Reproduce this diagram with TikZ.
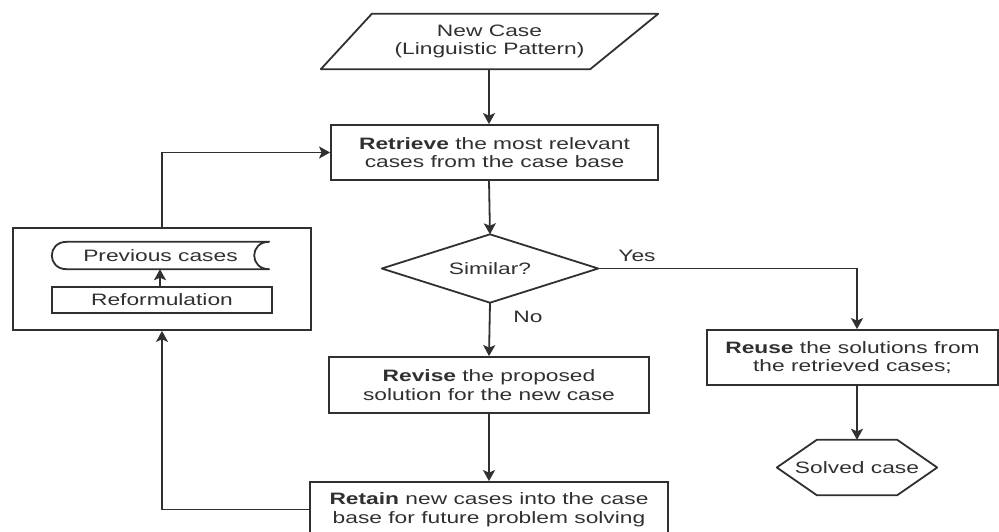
\documentclass[tikz,border=0pt]{standalone}
\usepackage{fontspec}
\setmainfont{Liberation Sans}[FakeStretch=1.38]
\usetikzlibrary{arrows.meta,shapes.geometric}
\definecolor{ink}{HTML}{303030}
\begin{document}
\begin{tikzpicture}[x=1pt,y=-1pt,
  every node/.style={font=\fontsize{16.5}{18.5}\selectfont, text=ink, inner sep=0pt, align=center},
  box/.style={draw=ink, line width=1.8pt, rectangle, minimum width=#1},
  ghost/.style={rectangle},
  shapeline/.style={draw=ink, line width=1.8pt, line join=round},
  conn/.style={draw=ink, line width=1.8pt},
  arr/.style={conn, -{Stealth[length=11pt,width=12pt,inset=2.5pt]}},
  lbl/.style={font=\fontsize{16.5}{18.5}\selectfont}
]
\useasboundingbox (0,0) rectangle (999,531);
\clip (0,0) rectangle (999,531);

% New case (parallelogram)
\node[ghost, minimum width=337pt, minimum height=55pt] (newcase) at (489.5,41.5) {New Case\\(Linguistic Pattern)};
\draw[shapeline] (newcase.south west) -- ([xshift=51pt]newcase.north west) -- (newcase.north east) -- ([xshift=-68pt]newcase.south east) -- cycle;

% Retrieve
\node[box=327pt, minimum height=55pt] (retrieve) at (494.5,152.5) {\textbf{Retrieve} the most relevant\\cases from the case base};

% Similar diamond
\node[ghost, minimum width=216pt, minimum height=68pt] (similar) at (490,268.5) {Similar?};
\draw[shapeline] (similar.west) -- (similar.north) -- (similar.east) -- (similar.south) -- cycle;

% Revise
\node[box=320pt, minimum height=56pt] (revise) at (489,385) {\textbf{Revise} the proposed\\solution for the new case};

% Retain
\node[box=358pt, minimum height=55pt] (retain) at (489,509.5) {\textbf{Retain} new cases into the case\\base for future problem solving};

% Reuse
\node[box=291pt, minimum height=55pt] (reuse) at (852.5,357.5) {\textbf{Reuse} the solutions from\\the retrieved cases;};

% Solved case hexagon
\node[ghost, minimum width=160pt, minimum height=55pt] (solved) at (857,467.5) {Solved case};
\draw[shapeline] (solved.west) -- ([xshift=40pt]solved.north west) -- ([xshift=-40pt]solved.north east) -- (solved.east) -- ([xshift=-40pt]solved.south east) -- ([xshift=40pt]solved.south west) -- cycle;

% Left group
\node[box=298pt, minimum height=102pt] (outer) at (162,279) {};
\node[ghost, minimum width=217pt, minimum height=27pt] (prev) at (160.5,255.5) {Previous cases};
\draw[shapeline] ([xshift=15pt]prev.north west) -- (prev.north east)
  .. controls ([xshift=-20pt]prev.north east) and ([xshift=-20pt]prev.south east) .. (prev.south east)
  -- ([xshift=15pt]prev.south west)
  .. controls ([xshift=-5pt]prev.south west) and ([xshift=-5pt]prev.north west) .. cycle;
\node[box=220pt, minimum height=26pt] (reform) at (162,300) {Reformulation};

% Connectors
\draw[arr] (newcase.south -| 489,0) -- (489,0 |- retrieve.north);
\draw[arr] (retrieve.south -| 489,0) -- (similar.north);
\draw[arr] (similar.south) -- (revise.north);
\draw[arr] (revise.south) -- (retain.north);
\draw[arr] (similar.east) -- (857,268.5) -- (857,0 |- reuse.north);
\draw[arr] (857,0 |- reuse.south) -- (solved.north);
\draw[arr] (reform.north -| 160,0) -- (160,0 |- prev.south);
\draw[arr] (retain.west) -- (162,509.5) -- (outer.south);
\draw[arr] (outer.north) -- (162,152.5) -- (retrieve.west);

% Labels
\node[lbl] (yes) at (637,256) {Yes};
\node[lbl] (no) at (528,317) {No};
\end{tikzpicture}
\end{document}
